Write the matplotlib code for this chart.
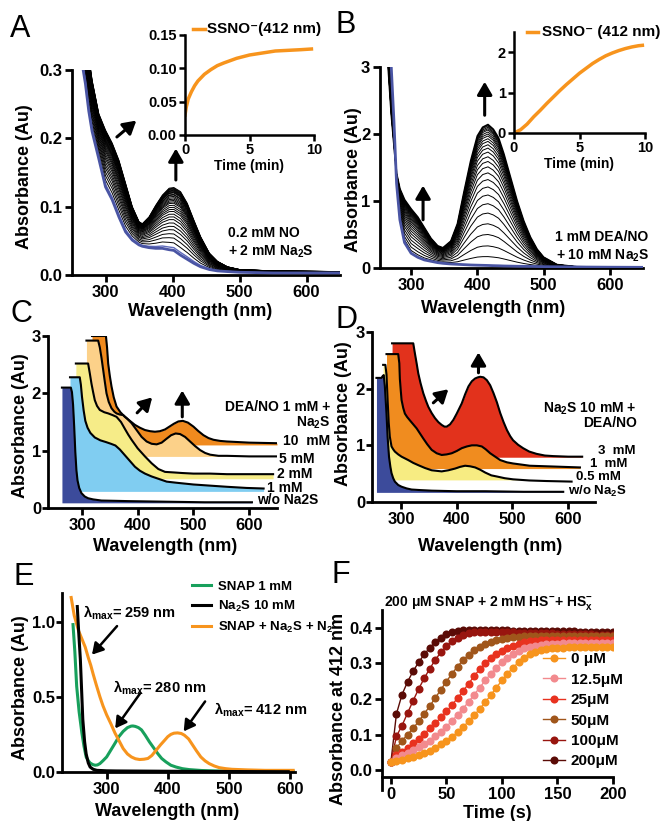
import numpy as np
import matplotlib
matplotlib.use('Agg')
import matplotlib.pyplot as plt
from matplotlib.ticker import FormatStrFormatter

plt.rcParams['font.family'] = ['Liberation Sans', 'DejaVu Sans']
plt.rcParams['font.weight'] = 'bold'
plt.rcParams['axes.labelweight'] = 'bold'
plt.rcParams['mathtext.fontset'] = 'custom'
plt.rcParams['mathtext.rm'] = 'Liberation Sans:bold'
plt.rcParams['mathtext.it'] = 'Liberation Sans:bold'
plt.rcParams['mathtext.bf'] = 'Liberation Sans:bold'
plt.rcParams['mathtext.default'] = 'regular'

# ---------------- data ----------------
# A: 0.2 mM NO + 2 mM Na2S, first (blue) and last (black) spectra
a_wl = [265, 270, 275, 280, 290, 300, 310, 320, 330, 340, 350, 355, 365, 375, 385,
        395, 402, 412, 422, 432, 442, 455, 467, 482, 500, 550, 650]
a_start = [0.31, 0.28, 0.24, 0.21, 0.17, 0.129, 0.110, 0.085, 0.063, 0.051, 0.044, 0.042,
           0.040, 0.039, 0.039, 0.037, 0.036, 0.029, 0.023, 0.017, 0.012, 0.008, 0.006,
           0.005, 0.004, 0.003, 0.003]
a_end = [0.40, 0.36, 0.32, 0.285, 0.236, 0.212, 0.193, 0.168, 0.134, 0.100, 0.078, 0.075,
         0.085, 0.102, 0.117, 0.127, 0.128, 0.122, 0.105, 0.080, 0.056, 0.032, 0.020,
         0.012, 0.008, 0.006, 0.005]
# absorbance at 402 nm of each recorded spectrum
a_levels = [0.036, 0.040, 0.047, 0.054, 0.060, 0.066, 0.071, 0.076, 0.081, 0.085, 0.089,
            0.093, 0.096, 0.099, 0.102, 0.105, 0.107, 0.109, 0.111, 0.113, 0.115, 0.117,
            0.118, 0.120, 0.121, 0.122, 0.123, 0.124, 0.125, 0.126, 0.127, 0.128]
a_t = [0, 0.1, 0.25, 0.5, 0.75, 1.0, 1.5, 2, 2.5, 3, 4, 5, 6, 7, 8, 9, 9.8]
a_kin = [0.030, 0.042, 0.054, 0.065, 0.074, 0.081, 0.091, 0.098, 0.104, 0.108, 0.115,
         0.120, 0.123, 0.126, 0.127, 0.128, 0.129]

# B: 1 mM DEA/NO + 10 mM Na2S
b_wl = [262, 266, 270, 274, 278, 283, 290, 300, 310, 320, 330, 340, 348, 360, 370, 380,
        390, 400, 408, 416, 424, 432, 440, 450, 460, 470, 480, 490, 500, 520, 550, 600, 650]
b_start = [4.5, 3.6, 3.0, 2.2, 1.26, 0.72, 0.38, 0.22, 0.16, 0.12, 0.10, 0.08, 0.07, 0.06,
           0.055, 0.05, 0.045, 0.042, 0.04, 0.038, 0.035, 0.033, 0.03, 0.028, 0.026, 0.025,
           0.024, 0.022, 0.02, 0.018, 0.015, 0.012, 0.01]
b_end = [3.6, 2.9, 2.3, 1.85, 1.41, 1.18, 1.02, 0.88, 0.76, 0.60, 0.44, 0.33, 0.30, 0.40,
         0.66, 1.14, 1.60, 1.97, 2.10, 2.14, 2.07, 1.94, 1.70, 1.35, 1.00, 0.70, 0.46, 0.28,
         0.16, 0.05, 0.018, 0.012, 0.01]
# absorbance at 416 nm of each recorded spectrum
b_levels = [0.038, 0.17, 0.33, 0.50, 0.66, 0.82, 0.96, 1.09, 1.21, 1.32, 1.42, 1.51, 1.59,
            1.66, 1.73, 1.79, 1.84, 1.89, 1.93, 1.97, 2.00, 2.03, 2.06, 2.08, 2.10, 2.12, 2.14]
b_t = [0, 0.5, 1, 1.5, 2, 2.5, 3, 3.5, 4, 4.5, 5, 5.5, 6, 6.5, 7, 7.5, 8, 8.5, 9, 9.5, 9.8]
b_kin = [0.0, 0.08, 0.22, 0.40, 0.56, 0.73, 0.89, 1.05, 1.20, 1.34, 1.48, 1.60, 1.72, 1.82,
         1.91, 1.98, 2.04, 2.09, 2.13, 2.16, 2.17]

# C: DEA/NO 1 mM + Na2S (stacked spectra)
c_labels = ['10  mM', '5 mM', '2 mM', '1 mM', 'w/o Na2S']
c_wl = [
    [318, 343, 345, 347, 350, 353, 357, 362, 369, 377, 386, 395, 404, 413, 422, 431, 440,
     449, 457, 465, 473, 481, 490, 500, 509, 518, 527, 536, 548, 560, 600, 650],
    [308, 329, 332, 335, 338, 341, 344, 348, 353, 358, 362, 368, 374, 381, 389, 398, 407,
     416, 425, 434, 443, 452, 460, 468, 476, 485, 494, 503, 512, 521, 530, 545, 560, 600, 650],
    [289, 311, 314, 317, 320, 323, 327, 332, 340, 347, 355, 362, 370, 377, 383, 389, 400,
     413, 425, 437, 449, 465, 480, 500, 530, 560, 600, 643],
    [278.5, 296, 298, 300, 303, 306, 310, 315, 323, 333, 343, 352, 360, 368, 377, 386, 395,
     404, 413, 425, 437, 452, 470, 500, 530, 560, 595, 626],
    [264, 280, 282, 284, 286, 288, 290, 292, 295, 299, 305, 311, 320, 335, 360, 383, 449,
     520, 605],
]
c_ab = [
    [3.0, 3.0, 2.80, 2.52, 2.30, 2.12, 1.93, 1.77, 1.67, 1.59, 1.52, 1.45, 1.40, 1.36, 1.34,
     1.33, 1.34, 1.37, 1.42, 1.47, 1.51, 1.52, 1.49, 1.42, 1.34, 1.27, 1.22, 1.19, 1.17,
     1.16, 1.14, 1.13],
    [2.92, 2.92, 2.80, 2.62, 2.41, 2.20, 2.00, 1.85, 1.74, 1.68, 1.65, 1.63, 1.62, 1.56,
     1.48, 1.36, 1.24, 1.16, 1.12, 1.11, 1.14, 1.21, 1.27, 1.30, 1.29, 1.24, 1.16, 1.08,
     1.01, 0.96, 0.93, 0.91, 0.91, 0.90, 0.90],
    [2.52, 2.52, 2.35, 2.17, 2.02, 1.88, 1.78, 1.71, 1.67, 1.65, 1.62, 1.59, 1.50, 1.38,
     1.28, 1.19, 1.04, 0.90, 0.78, 0.68, 0.63, 0.62, 0.61, 0.60, 0.60, 0.59, 0.59, 0.59],
    [2.28, 2.28, 2.15, 1.94, 1.70, 1.52, 1.40, 1.31, 1.23, 1.18, 1.15, 1.12, 1.09, 1.02,
     0.92, 0.82, 0.72, 0.65, 0.60, 0.55, 0.51, 0.46, 0.44, 0.41, 0.39, 0.37, 0.35, 0.34],
    [2.10, 2.10, 2.02, 1.80, 1.42, 0.98, 0.66, 0.48, 0.35, 0.26, 0.20, 0.17, 0.15, 0.13,
     0.125, 0.12, 0.11, 0.10, 0.10],
]
c_base = [1.10, 0.90, 0.51, 0.29, 0.09]
c_colors = ['#f08a1e', '#fcd189', '#f6ec88', '#80cdf1', '#3c4b9b']

# D: Na2S 10 mM + DEA/NO (stacked spectra)
d_labels = ['3  mM', '1  mM', '0.5 mM', 'w/o Na$_2$S']
d_wl = [
    [284, 322, 325, 328, 331, 335, 340, 345, 349, 355, 361, 367, 373, 378, 382, 388, 394,
     400, 405, 409, 415, 421, 427, 433, 438, 442, 448, 454, 460, 466, 472, 478, 484, 490,
     496, 501, 510, 519, 530, 543, 558, 573, 600, 625],
    [274, 295, 297, 298, 299.5, 301, 304, 307, 311, 316, 322, 328, 334, 340, 347, 355, 364,
     373, 382, 391, 400, 409, 418, 427, 436, 445, 452, 460, 469, 478, 490, 501, 516, 531,
     561, 621],
    [268, 272, 274, 276, 278, 280, 283, 286, 289, 295, 301, 307, 313, 322, 331, 343, 355,
     364, 373, 385, 397, 406, 415, 424, 433, 442, 451, 462, 472, 486, 501, 530, 561, 606],
    [256, 265, 267, 269, 271, 274, 276, 278.5, 281, 283, 286, 289, 295, 301, 310, 319, 335,
     355, 400, 451, 520, 591],
]
d_ab = [
    [2.80, 2.80, 2.62, 2.45, 2.27, 2.10, 1.92, 1.78, 1.68, 1.57, 1.48, 1.41, 1.36, 1.33,
     1.33, 1.37, 1.45, 1.56, 1.66, 1.74, 1.90, 2.04, 2.13, 2.18, 2.20, 2.21, 2.20, 2.15,
     2.06, 1.92, 1.76, 1.57, 1.41, 1.27, 1.16, 1.09, 1.01, 0.95, 0.89, 0.85, 0.82, 0.81,
     0.80, 0.80],
    [2.61, 2.61, 2.45, 2.17, 1.98, 1.80, 1.66, 1.56, 1.50, 1.44, 1.37, 1.30, 1.21, 1.12,
     1.02, 0.92, 0.86, 0.83, 0.84, 0.86, 0.90, 0.95, 0.98, 1.00, 1.00, 0.98, 0.93, 0.86,
     0.80, 0.74, 0.70, 0.68, 0.66, 0.64, 0.63, 0.61],
    [2.42, 2.42, 2.25, 1.80, 1.40, 1.15, 0.98, 0.93, 0.89, 0.84, 0.80, 0.77, 0.74, 0.69,
     0.65, 0.60, 0.56, 0.55, 0.54, 0.56, 0.59, 0.62, 0.64, 0.63, 0.61, 0.57, 0.52, 0.47,
     0.45, 0.42, 0.40, 0.38, 0.37, 0.36],
    [2.19, 2.19, 2.22, 2.24, 2.05, 1.56, 1.15, 0.80, 0.62, 0.51, 0.42, 0.36, 0.30, 0.27,
     0.24, 0.22, 0.21, 0.20, 0.19, 0.19, 0.18, 0.18],
]
d_base = [0.79, 0.59, 0.39, 0.17]
d_colors = ['#e2321c', '#f08c1f', '#f7ec82', '#3c4b9b']

# E: reference spectra
e_snap_wl = [245, 248, 251, 255, 259.5, 263, 266.5, 270, 273, 277, 281, 285, 289, 294, 300,
             306, 313.5, 320, 327, 334, 340, 343, 347, 352, 357, 363, 370, 377, 384, 390,
             397, 405, 413.5, 424, 435, 455, 478, 520, 560, 605]
e_snap_ab = [0.98, 0.80, 0.57, 0.40, 0.26, 0.17, 0.10, 0.075, 0.06, 0.05, 0.045, 0.047,
             0.056, 0.075, 0.10, 0.14, 0.19, 0.235, 0.27, 0.295, 0.305, 0.306, 0.303, 0.295,
             0.28, 0.245, 0.20, 0.16, 0.12, 0.09, 0.067, 0.045, 0.033, 0.022, 0.016, 0.010,
             0.007, 0.005, 0.004, 0.004]
e_na2s_wl = [252, 254, 257, 259, 261, 264, 266.5, 270, 273, 278, 284, 300, 316, 400, 451,
             520, 597]
e_na2s_ab = [1.10, 0.95, 0.75, 0.55, 0.35, 0.20, 0.12, 0.06, 0.033, 0.018, 0.011, 0.008,
             0.007, 0.005, 0.004, 0.003, 0.002]
e_mix_wl = [242, 247, 254, 260, 265, 270, 274, 278, 283, 289, 294, 300, 307, 313.5, 320,
            327, 334, 340.5, 347, 354, 361, 367.5, 374, 381, 388, 394.6, 400, 405, 410, 416,
            422, 427, 434, 440.5, 447, 454, 461, 467.6, 476, 484, 495, 505, 530, 559, 605]
e_mix_ab = [1.16, 1.04, 0.94, 0.88, 0.83, 0.76, 0.71, 0.65, 0.58, 0.50, 0.44, 0.38, 0.32,
            0.26, 0.21, 0.156, 0.12, 0.10, 0.088, 0.083, 0.085, 0.09, 0.11, 0.145, 0.18,
            0.21, 0.235, 0.25, 0.258, 0.26, 0.256, 0.245, 0.22, 0.18, 0.14, 0.10, 0.074,
            0.056, 0.04, 0.029, 0.022, 0.018, 0.014, 0.011, 0.011]

# F: kinetics at 412 nm, every 5 s
f_time = list(range(0, 205, 5))
f_labels = ['0 μM', '12.5μM', '25μM', '50μM', '100μM', '200μM']
f_colors = ['#f7941d', '#f28a8e', '#e8321f', '#a0561b', '#98150f', '#5a0b06']
f_vals = [
    [0.022, 0.025, 0.029, 0.033, 0.037, 0.042, 0.048, 0.055, 0.063, 0.072, 0.082, 0.094,
     0.106, 0.121, 0.137, 0.154, 0.172, 0.191, 0.211, 0.232, 0.252, 0.271, 0.288, 0.303,
     0.315, 0.325, 0.332, 0.337, 0.340, 0.342, 0.343, 0.344, 0.345, 0.345, 0.345, 0.346,
     0.346, 0.346, 0.346, 0.346, 0.346],
    [0.022, 0.035, 0.042, 0.049, 0.056, 0.064, 0.073, 0.083, 0.095, 0.108, 0.122, 0.138,
     0.155, 0.173, 0.192, 0.212, 0.232, 0.252, 0.271, 0.288, 0.303, 0.316, 0.327, 0.336,
     0.342, 0.347, 0.350, 0.352, 0.354, 0.355, 0.355, 0.356, 0.356, 0.356, 0.356, 0.356,
     0.356, 0.356, 0.356, 0.356, 0.356],
    [0.022, 0.042, 0.052, 0.063, 0.075, 0.088, 0.102, 0.117, 0.132, 0.148, 0.165, 0.183,
     0.202, 0.222, 0.243, 0.264, 0.284, 0.300, 0.314, 0.326, 0.336, 0.344, 0.350, 0.355,
     0.359, 0.362, 0.364, 0.365, 0.366, 0.366, 0.366, 0.366, 0.366, 0.366, 0.366, 0.366,
     0.366, 0.366, 0.366, 0.366, 0.366],
    [0.022, 0.062, 0.082, 0.100, 0.117, 0.137, 0.158, 0.180, 0.203, 0.226, 0.249, 0.271,
     0.291, 0.309, 0.324, 0.337, 0.347, 0.355, 0.361, 0.366, 0.369, 0.372, 0.374, 0.375,
     0.376, 0.376, 0.376, 0.376, 0.376, 0.376, 0.376, 0.376, 0.376, 0.376, 0.376, 0.376,
     0.376, 0.376, 0.376, 0.376, 0.376],
    [0.022, 0.095, 0.125, 0.160, 0.195, 0.228, 0.258, 0.285, 0.310, 0.331, 0.348, 0.362,
     0.372, 0.380, 0.385, 0.388, 0.389, 0.389, 0.389, 0.388, 0.388, 0.387, 0.387, 0.386,
     0.386, 0.385, 0.385, 0.384, 0.384, 0.384, 0.383, 0.383, 0.383, 0.382, 0.382, 0.382,
     0.382, 0.381, 0.381, 0.381, 0.381],
    [0.022, 0.158, 0.212, 0.248, 0.278, 0.303, 0.325, 0.344, 0.360, 0.372, 0.383, 0.389,
     0.391, 0.393, 0.394, 0.394, 0.394, 0.394, 0.394, 0.393, 0.393, 0.393, 0.392, 0.392,
     0.392, 0.391, 0.391, 0.391, 0.391, 0.390, 0.390, 0.390, 0.390, 0.390, 0.389, 0.389,
     0.389, 0.389, 0.389, 0.389, 0.389],
]

# ---------------- layout helpers ----------------
W, H = 666, 821
ORANGE = '#f7941d'
BLUE = '#4a55a4'


def rect(l, t, r, b):
    return [l / W, 1 - b / H, (r - l) / W, (b - t) / H]


def style(ax, lw=2.0, size=12, length=5):
    for s in ['top', 'right']:
        ax.spines[s].set_visible(False)
    for s in ['left', 'bottom']:
        ax.spines[s].set_linewidth(lw)
    ax.tick_params(width=lw, length=length, labelsize=size, pad=2)


def arrow(ax, x0, y0, x1, y1, lw=2.2, ms=14):
    ax.annotate('', xy=(x1, y1), xytext=(x0, y0),
                arrowprops=dict(arrowstyle='-|>,head_length=0.55,head_width=0.32',
                                lw=lw, color='k', mutation_scale=ms, shrinkA=0, shrinkB=0),
                annotation_clip=False)


fig = plt.figure(figsize=(6.66, 8.21), dpi=100)

# ---------------- A ----------------
ax = fig.add_axes(rect(72, 70, 340, 275))
style(ax)
a_s = np.array(a_start)
a_e = np.array(a_end)
i0 = a_wl.index(402)
for k, lev in enumerate(a_levels):
    w = (lev - a_s[i0]) / (a_e[i0] - a_s[i0])
    spec = a_s + w * (a_e - a_s)
    if k == 0:
        ax.plot(a_wl, spec, color=BLUE, lw=2.0, zorder=5)
    elif k == 1:
        ax.plot(a_wl, spec, color='#5f6abb', lw=1.0, zorder=4)
    else:
        ax.plot(a_wl, spec, color='k', lw=0.7, zorder=3)
ax.set_xlim(250, 650)
ax.set_ylim(0, 0.3)
ax.set_xticks([300, 400, 500, 600])
ax.set_yticks([0.0, 0.1, 0.2, 0.3])
ax.set_xlabel('Wavelength (nm)', fontsize=13)
ax.set_ylabel('Absorbance (Au)', fontsize=13)
ax.xaxis.set_label_coords(0.478, -0.137)
ax.yaxis.set_label_coords(-0.146, 0.48)
arrow(ax, 317, 0.202, 346, 0.226)
arrow(ax, 405, 0.139, 405, 0.185)
ax.text(483, 0.061, '0.2 mM NO', fontsize=10, va='center')
ax.text(483, 0.034, '+ 2 mM Na$_2$S', fontsize=10, va='center')

ins = fig.add_axes(rect(185, 35, 314, 135))
style(ins, lw=1.8, size=10.5, length=4)
ins.plot(a_t, a_kin, color=ORANGE, lw=2.5)
ins.set_xlim(0, 10)
ins.set_ylim(0, 0.15)
ins.set_xticks([0, 5, 10])
ins.set_yticks([0.0, 0.05, 0.10, 0.15])
ins.yaxis.set_major_formatter(FormatStrFormatter('%.2f'))
ins.set_xlabel('Time (min)', fontsize=10, labelpad=1)
ins.plot([0.06, 0.155], [1.06, 1.06], transform=ins.transAxes, color=ORANGE, lw=2.5,
         clip_on=False)
ins.text(0.17, 1.06, 'SSNO⁻(412 nm)', transform=ins.transAxes, fontsize=11,
         va='center')

# ---------------- B ----------------
ax = fig.add_axes(rect(380, 67, 643, 268))
style(ax)
b_s = np.array(b_start)
b_e = np.array(b_end)
i0 = b_wl.index(416)
for k, lev in enumerate(b_levels):
    w = (lev - b_s[i0]) / (b_e[i0] - b_s[i0])
    spec = b_s + w * (b_e - b_s)
    if k == 0:
        ax.plot(b_wl, spec, color=BLUE, lw=2.0, zorder=5)
    elif k == len(b_levels) - 1:
        ax.plot(b_wl, spec, color='k', lw=1.3, zorder=4)
    else:
        ax.plot(b_wl, spec, color='k', lw=0.7, zorder=3)
ax.set_xlim(253, 650)
ax.set_ylim(0, 3)
ax.set_xticks([300, 400, 500, 600])
ax.set_yticks([0, 1, 2, 3])
ax.set_xlabel('Wavelength (nm)', fontsize=13)
ax.set_ylabel('Absorbance (Au)', fontsize=13)
ax.xaxis.set_label_coords(0.43, -0.159)
ax.yaxis.set_label_coords(-0.068, 0.44)
arrow(ax, 318, 0.72, 318, 1.23)
arrow(ax, 411, 2.28, 411, 2.78)
ax.text(517, 0.46, '1 mM DEA/NO', fontsize=10, va='center')
ax.text(518, 0.18, '+ 10 mM Na$_2$S', fontsize=10, va='center')

ins = fig.add_axes(rect(514, 32, 645, 133))
style(ins, lw=1.8, size=10.5, length=4)
ins.plot(b_t, b_kin, color=ORANGE, lw=2.5)
ins.set_xlim(0, 10)
ins.set_ylim(0, 2.5)
ins.set_xticks([0, 5, 10])
ins.set_yticks([0, 1, 2])
ins.set_xlabel('Time (min)', fontsize=10, labelpad=1)
ins.plot([0.097, 0.186], [0.997, 0.997], transform=ins.transAxes, color=ORANGE, lw=2.5,
         clip_on=False)
ins.text(0.21, 0.997, 'SSNO⁻ (412 nm)', transform=ins.transAxes, fontsize=11,
         va='center')

# ---------------- C ----------------
ax = fig.add_axes(rect(48, 336, 277, 508))
style(ax)
ax.tick_params(axis='y', length=4, pad=1)
for wl, ab, base, col in zip(c_wl, c_ab, c_base, c_colors):
    ab = np.array(ab)
    ax.fill_between(wl, base, np.maximum(ab, base), color=col, lw=0, zorder=1)
for wl, ab in zip(c_wl, c_ab):
    ax.plot(wl, ab, color='k', lw=1.5, zorder=3)
ax.set_xlim(239, 650)
ax.set_ylim(0, 3)
ax.set_xticks([300, 400, 500, 600])
ax.set_yticks([0, 1, 2, 3])
ax.set_xlabel('Wavelength (nm)', fontsize=13)
ax.set_ylabel('Absorbance (Au)', fontsize=13)
ax.xaxis.set_label_coords(0.51, -0.174)
ax.yaxis.set_label_coords(-0.085, 0.48)
arrow(ax, 399, 1.66, 426, 1.93)
arrow(ax, 480, 1.59, 480, 2.05)
ax.text(745, 1.77, 'DEA/NO 1 mM +', fontsize=10, va='center', ha='right')
ax.text(745, 1.48, 'Na$_2$S', fontsize=10, va='center', ha='right')
c_lab_x = [661, 654, 650, 632, 614]
c_lab_y = [1.16, 0.855, 0.59, 0.355, 0.14]
for lab, lx, ly in zip(c_labels, c_lab_x, c_lab_y):
    ax.text(lx, ly, lab, fontsize=10, va='center')

# ---------------- D ----------------
ax = fig.add_axes(rect(372, 332, 595, 502))
style(ax)
ax.tick_params(axis='y', length=4, pad=1)
for wl, ab, base, col in zip(d_wl, d_ab, d_base, d_colors):
    ab = np.array(ab)
    ax.fill_between(wl, base, np.maximum(ab, base), color=col, lw=0, zorder=1)
for wl, ab in zip(d_wl, d_ab):
    ax.plot(wl, ab, color='k', lw=1.5, zorder=3)
ax.set_xlim(248, 648)
ax.set_ylim(0, 3)
ax.set_xticks([300, 400, 500, 600])
ax.set_yticks([0, 1, 2, 3])
ax.set_xlabel('Wavelength (nm)', fontsize=13)
ax.set_ylabel('Absorbance (Au)', fontsize=13)
ax.xaxis.set_label_coords(0.53, -0.21)
ax.yaxis.set_label_coords(-0.09, 0.52)
arrow(ax, 358, 1.75, 385, 1.99)
arrow(ax, 439, 2.28, 439, 2.64)
ax.text(723, 1.65, 'Na$_2$S 10 mM +', fontsize=10, va='center', ha='right')
ax.text(723, 1.39, 'DEA/NO', fontsize=10, va='center', ha='right')
d_lab_x = [654, 639, 614, 600]
d_lab_y = [0.90, 0.67, 0.445, 0.18]
for lab, lx, ly in zip(d_labels, d_lab_x, d_lab_y):
    ax.text(lx, ly, lab, fontsize=9.5, va='center')

# ---------------- E ----------------
ax = fig.add_axes(rect(62, 593, 295, 772))
style(ax)
ax.tick_params(axis='y', length=4, pad=1)
l1, = ax.plot(e_snap_wl, e_snap_ab, color='#18a05c', lw=2.2, label='SNAP 1 mM')
l3, = ax.plot(e_mix_wl, e_mix_ab, color=ORANGE, lw=2.2, label='SNAP + Na$_2$S + N$_2$')
l2, = ax.plot(e_na2s_wl, e_na2s_ab, color='k', lw=2.2, label='Na$_2$S 10 mM')
ax.set_xlim(227, 608)
ax.set_ylim(0, 1.19)
ax.set_xticks([300, 400, 500, 600])
ax.set_yticks([0.0, 0.5, 1.0])
ax.yaxis.set_major_formatter(FormatStrFormatter('%.1f'))
ax.set_xlabel('Wavelength (nm)', fontsize=13)
ax.set_ylabel('Absorbance (Au)', fontsize=13)
ax.xaxis.set_label_coords(0.45, -0.173)
ax.yaxis.set_label_coords(-0.14, 0.47)
ax.legend(handles=[l1, l2, l3], loc='upper left', bbox_to_anchor=(0.56, 1.07),
          frameon=False, fontsize=9.5, handlelength=1.4, handletextpad=0.5,
          labelspacing=0.45, borderaxespad=0, borderpad=0)
ax.text(261, 1.06, 'λ$_{max}$= 259 nm', fontsize=10.5, va='center')
arrow(ax, 317, 0.97, 276, 0.78, lw=1.8, ms=12)
ax.text(310, 0.558, 'λ$_{max}$= 280 nm', fontsize=10.5, va='center')
arrow(ax, 355, 0.524, 314, 0.29, lw=1.8, ms=12)
ax.text(475, 0.413, 'λ$_{max}$= 412 nm', fontsize=10.5, va='center')
arrow(ax, 461, 0.469, 426, 0.27, lw=1.8, ms=12)

# ---------------- F ----------------
ax = fig.add_axes(rect(382, 610, 613, 790))
style(ax)
ax.spines['bottom'].set_position(('data', -0.02))
handles = []
for vals, col, lab in zip(f_vals, f_colors, f_labels):
    h, = ax.plot(f_time, vals, '-o', color=col, lw=1.0, ms=5.8, mew=0, label=lab)
    handles.append(h)
# draw order: fastest first, slowest on top
for z, h in enumerate(handles[::-1]):
    h.set_zorder(2 + z)
ax.set_xlim(-8, 200)
ax.set_ylim(-0.056, 0.45)
ax.set_xticks([0, 50, 100, 150, 200])
ax.set_yticks([0.0, 0.1, 0.2, 0.3, 0.4])
ax.yaxis.set_major_formatter(FormatStrFormatter('%.1f'))
ax.set_xlabel('Time (s)', fontsize=13)
ax.set_ylabel('Absorbance at 412 nm', fontsize=13)
ax.xaxis.set_label_coords(0.50, -0.083)
ax.yaxis.set_label_coords(-0.15, 0.45)
leg = ax.legend(handles=handles, loc='upper left', bbox_to_anchor=(0.695, 0.765),
                frameon=False, fontsize=11, handlelength=1.5, handletextpad=0.35,
                labelspacing=0.42, borderaxespad=0, borderpad=0)
leg.set_zorder(20)
ax.text(0.46, 1.04, '200 μM SNAP + 2 mM HS$^{-}$+ HS$_x^{-}$', transform=ax.transAxes,
        fontsize=10, ha='center', va='center')

# ---------------- panel letters ----------------
for lab, lx, ly in [('A', 10, 37), ('B', 335, 33), ('C', 10, 322), ('D', 335, 328),
                    ('E', 13, 585), ('F', 331, 583)]:
    fig.text(lx / W, 1 - ly / H, lab, fontsize=22, fontweight='normal', va='baseline')

fig.savefig('out.png', dpi=100)
